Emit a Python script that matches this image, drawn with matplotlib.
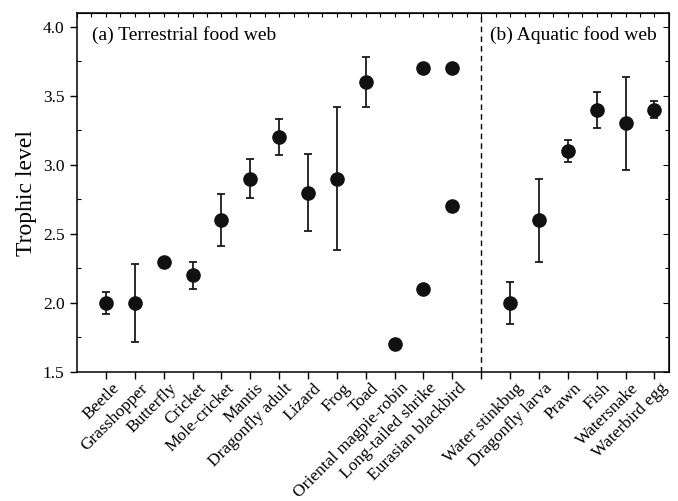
import matplotlib
matplotlib.use('Agg')
import matplotlib.pyplot as plt
import matplotlib.transforms as mtransforms
from matplotlib.ticker import MultipleLocator

plt.rcParams['font.family'] = ['Liberation Serif', 'DejaVu Serif']

# Species along x axis, terrestrial first, then aquatic
terrestrial = ['Beetle', 'Grasshopper', 'Butterfly', 'Cricket', 'Mole-cricket',
               'Mantis', 'Dragonfly adult', 'Lizard', 'Frog', 'Toad',
               'Oriental magpie-robin', 'Long-tailed shrike', 'Eurasian blackbird']
aquatic = ['Water stinkbug', 'Dragonfly larva', 'Prawn', 'Fish', 'Watersnake',
           'Waterbird egg']

# mean trophic level and error (0 = no error bar)
terr_mean = [2.0, 2.0, 2.3, 2.2, 2.6, 2.9, 3.2, 2.8, 2.9, 3.6, 1.7, 3.7, 3.7]
terr_err = [0.08, 0.28, 0, 0.1, 0.19, 0.14, 0.13, 0.28, 0.52, 0.18, 0, 0, 0]
aqua_mean = [2.0, 2.6, 3.1, 3.4, 3.3, 3.4]
aqua_err = [0.15, 0.3, 0.08, 0.13, 0.34, 0.06]

# second values for birds with two estimates
extra_names = ['Long-tailed shrike', 'Eurasian blackbird']
extra_vals = [2.1, 2.7]

labels = terrestrial + aquatic
xpos = list(range(len(terrestrial))) + [len(terrestrial) + 1 + i for i in range(len(aquatic))]
means = terr_mean + aqua_mean
errs = terr_err + aqua_err

fig = plt.figure(figsize=(6.78, 5.01), dpi=100)
ax = fig.add_axes([0.1136, 0.2575, 0.873, 0.7165])

for x, m, e in zip(xpos, means, errs):
    if e > 0:
        ax.errorbar(x, m, yerr=e, fmt='none', ecolor='#1a1a1a', elinewidth=1.3,
                    capsize=3.1, capthick=1.3, zorder=2)
ax.plot(xpos, means, 'o', color='#111111', markersize=9.5, zorder=3)
ex = [xpos[labels.index(n)] for n in extra_names]
ax.plot(ex, extra_vals, 'o', color='#111111', markersize=9.5, zorder=3)

split = len(terrestrial)
ax.axvline(split, color='black', linestyle=(0, (4, 3)), linewidth=1.0)

ax.text(-0.48, 3.94, '(a) Terrestrial food web', fontsize=14, va='center')
ax.text(13.3, 3.94, '(b) Aquatic food web', fontsize=14, va='center')

ax.set_xlim(-1, 19.5)
ax.set_ylim(1.5, 4.1)
ax.set_xticks(xpos + [split])
ax.set_xticklabels([])

# rotated category labels, nudged right/down of each tick
shift = mtransforms.ScaledTranslation(0.11, -0.14, fig.dpi_scale_trans)
trans = ax.get_xaxis_transform() + shift
for x, lab in zip(xpos, labels):
    ax.text(x, 0, lab, transform=trans, rotation=45, ha='right', va='center',
            rotation_mode='anchor', fontsize=12.5, clip_on=False)

ax.yaxis.set_major_locator(MultipleLocator(0.5))
ax.yaxis.set_minor_locator(MultipleLocator(0.25))
ax.set_yticks([1.5, 2.0, 2.5, 3.0, 3.5, 4.0])
ax.set_yticklabels(['1.5', '2.0', '2.5', '3.0', '3.5', '4.0'], fontsize=12.5)
ax.tick_params(axis='x', direction='out', length=5, width=1)
ax.tick_params(axis='y', which='major', direction='out', length=5, width=1, pad=4)
ax.tick_params(axis='y', which='minor', direction='in', length=3, width=0.8)

# inward ticks on the right and top edges
right = ax.secondary_yaxis('right')
right.yaxis.set_major_locator(MultipleLocator(0.5))
right.yaxis.set_minor_locator(MultipleLocator(0.25))
right.tick_params(which='major', direction='in', length=4, labelright=False)
right.tick_params(which='minor', direction='in', length=3, width=0.8)

top = ax.secondary_xaxis('top')
top.xaxis.set_major_locator(MultipleLocator(0.5))
top.tick_params(direction='in', length=3, width=0.8, labeltop=False)

ax.set_ylabel('Trophic level', fontsize=17, labelpad=4)

for s in ax.spines.values():
    s.set_linewidth(1.1)

fig.savefig('out.png', dpi=100)
